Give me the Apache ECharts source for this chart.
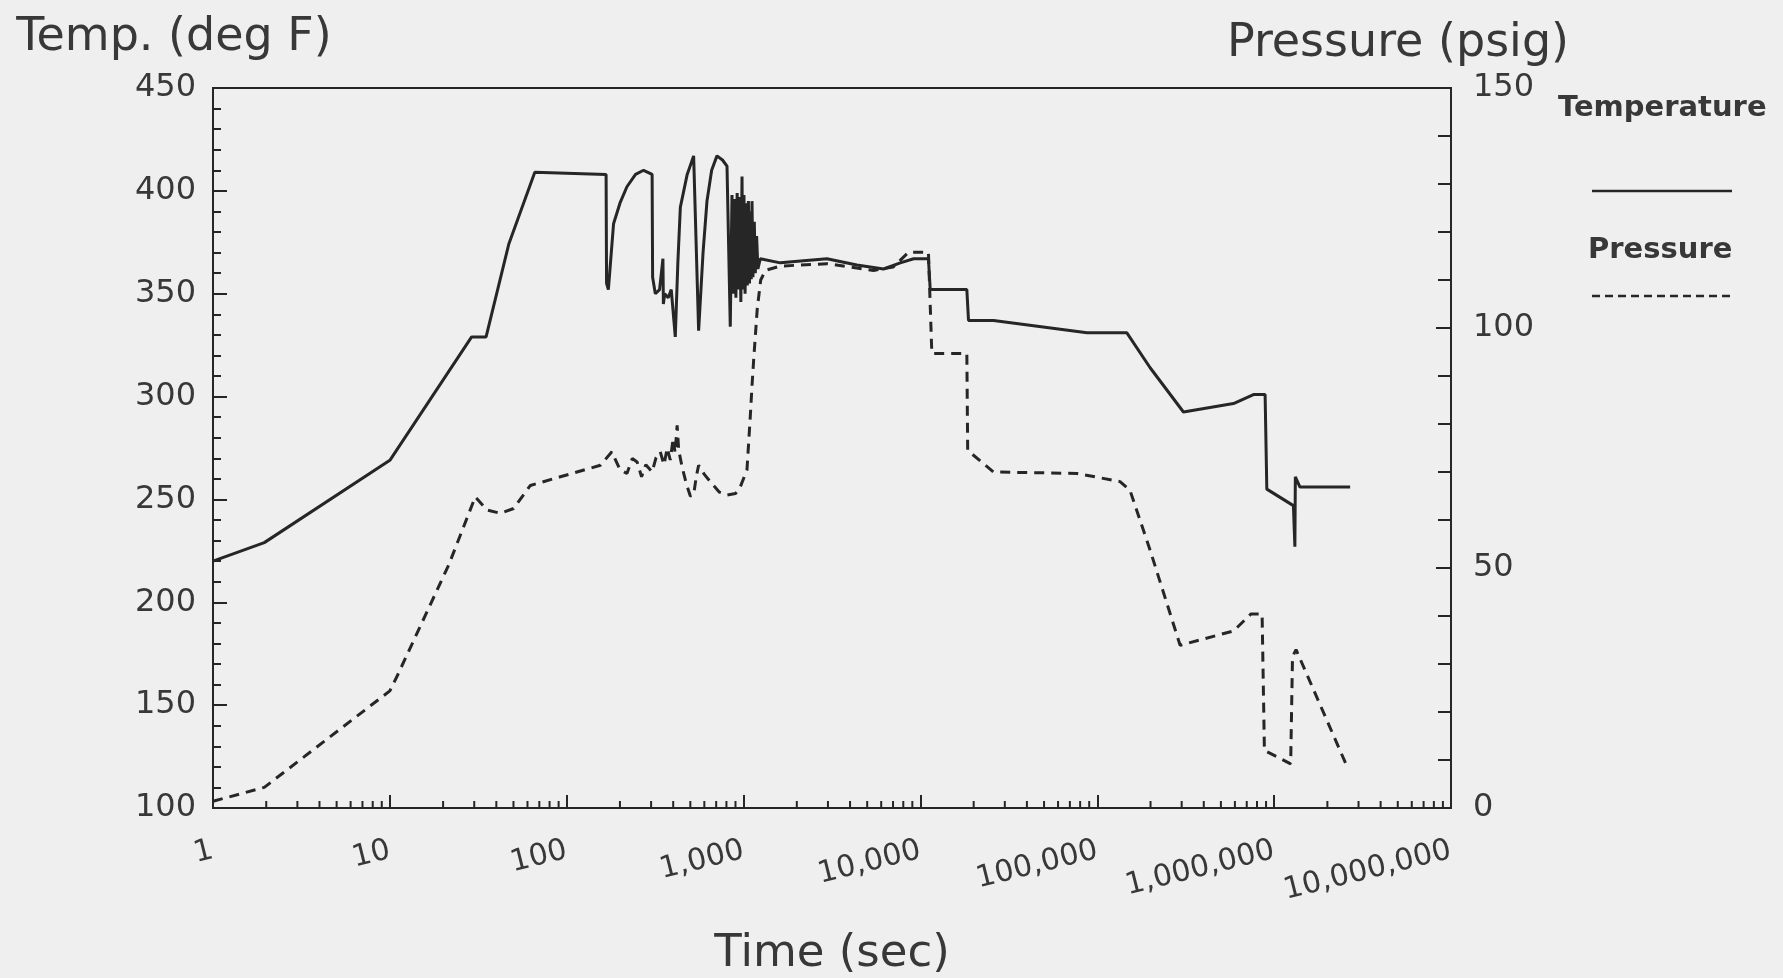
<!DOCTYPE html>
<html>
<head>
<meta charset="utf-8">
<title>Temperature / Pressure vs Time</title>
<script src="https://cdn.jsdelivr.net/npm/echarts@6/dist/echarts.min.js"></script>
<style>
  html, body { margin: 0; padding: 0; background: #efefef; }
  #chart { width: 1783px; height: 978px; }
</style>
</head>
<body>
<div id="chart"></div>
<script>
// time in seconds, temperature in deg F
var tempTime = [1, 1.95, 10, 29, 35, 47, 66, 167, 168, 172, 184, 200, 219, 245, 272, 304, 306, 317, 335, 350, 352, 358, 375, 390, 411, 425, 439, 480, 522, 557, 590, 621, 660, 707, 760, 806, 841,
  860, 875, 890, 905, 920, 935, 950, 965, 980, 990, 1005, 1020, 1035, 1050, 1065, 1080, 1095, 1105, 1116, 1130, 1150, 1165, 1185, 1205, 1243,
  1614, 2960, 4370, 6190, 7690, 9150, 11100, 11360, 18300, 18700, 25900, 87400, 147000, 199000, 307000, 589000, 764000, 889000, 909000, 1285000, 1310000, 1318000, 1400000, 2690000];
var tempValue = [220, 229, 269, 329, 329, 374, 409, 408, 355, 352, 384, 394, 402, 408, 410, 408, 358, 350, 352, 367, 345, 350, 348, 352, 329, 365, 392, 408, 417, 332, 370, 395, 410, 417, 415, 412, 334,
  398, 350, 396, 348, 399, 352, 397, 346, 407, 352, 398, 350, 394, 354, 395, 355, 390, 357, 395, 358, 385, 360, 378, 362, 367,
  365, 367, 364, 362, 365, 367, 367, 352, 352, 337, 337, 331, 331, 314, 292.5, 296.6, 301, 301, 255, 247, 227, 261, 256, 256];

// time in seconds, pressure in psig
var presTime = [1, 1.95, 10, 11, 21.5, 30.4, 35.4, 42.2, 50.1, 62.3, 92, 155, 180, 200, 219, 235, 250, 265, 280, 304, 320, 338, 355, 370, 385, 400, 410, 421, 430, 449, 474, 500, 522, 540, 557, 600, 662, 730, 806, 900, 958, 1045, 1091, 1115, 1140, 1195, 1250, 1330,
  1614, 2960, 5430, 7020, 8570, 11100, 11600, 18300, 18500, 25900, 76800, 134500, 153000, 199000, 294000, 590000, 738000, 855000, 881000, 1240000, 1270000, 1330000, 2600000];
var presValue = [1.4, 4.3, 24.4, 27.5, 50.6, 64.8, 62.1, 61.4, 62.4, 67.2, 69, 71.4, 74.2, 70.5, 69.7, 72.8, 72.1, 69, 71.5, 70, 73, 74.2, 71.5, 75, 72.5, 77, 74, 79.7, 74.5, 71.1, 67.6, 65, 65.2, 69, 71.4, 69.5, 67.6, 65.8, 65.2, 65.5, 66.9, 70.4, 81.5, 87.7, 93.3, 104, 110, 112,
  112.9, 113.4, 112, 112.7, 115.8, 115.8, 94.7, 94.7, 74.5, 70, 69.7, 68, 66.2, 53.7, 33.9, 36.9, 40.4, 40.4, 12, 9.2, 31.5, 33, 8.4];

var timeLabels = ['1', '10', '100', '1,000', '10,000', '100,000', '1,000,000', '10,000,000'];
var minorMultipliers = [2, 3, 4, 5, 6, 7, 8, 9];

var ink = '#262626';
var textInk = '#383838';
var fontFamily = '"DejaVu Sans", sans-serif';

var minorTimes = [];
for (var d = 0; d < 7; d++) {
  minorMultipliers.forEach(function (m) { minorTimes.push(m * Math.pow(10, d)); });
}

var chart = echarts.init(document.getElementById('chart'), null, { renderer: 'canvas' });

var option = {
  backgroundColor: '#efefef',
  animation: false,
  grid: {
    left: 213, right: 332, top: 88, bottom: 170,
    show: true, borderColor: ink, borderWidth: 2,
    outerBoundsMode: 'none'
  },
  xAxis: {
    type: 'log',
    logBase: 10,
    min: 1,
    max: 10000000,
    name: 'Time (sec)',
    nameLocation: 'middle',
    nameGap: 124,
    nameMoveOverlap: false,
    nameTextStyle: { fontFamily: fontFamily, fontSize: 45, color: textInk },
    axisLine: { show: true, lineStyle: { color: ink, width: 2 } },
    axisTick: { show: true, inside: true, length: 13, lineStyle: { color: ink, width: 2 } },
    minorTick: { show: false },
    splitLine: { show: false },
    axisLabel: {
      rotate: 14,
      margin: 42,
      fontFamily: fontFamily,
      fontSize: 30,
      color: textInk,
      hideOverlap: false,
      showMinLabel: true,
      showMaxLabel: true,
      formatter: function (v) {
        var k = Math.round(Math.log10(v));
        return timeLabels[k] || '';
      }
    }
  },
  yAxis: [{
    type: 'value',
    min: 100,
    max: 450,
    interval: 50,
    position: 'left',
    name: 'Temp. (deg F)',
    nameLocation: 'end',
    nameGap: 50,
    nameMoveOverlap: false,
    nameTextStyle: {
      fontFamily: fontFamily, fontSize: 46, color: textInk,
      align: 'center', verticalAlign: 'middle', padding: [0, 78, 0, 0]
    },
    axisLine: { show: true, lineStyle: { color: ink, width: 2 } },
    axisTick: { show: true, inside: true, length: 14, lineStyle: { color: ink, width: 2 } },
    minorTick: { show: true, splitNumber: 5, length: 8, lineStyle: { color: ink, width: 2 } },
    splitLine: { show: false },
    axisLabel: { margin: 17, fontFamily: fontFamily, fontSize: 32, color: textInk }
  }, {
    type: 'value',
    min: 0,
    max: 150,
    interval: 50,
    position: 'right',
    name: 'Pressure (psig)',
    nameLocation: 'end',
    nameGap: 44,
    nameMoveOverlap: false,
    nameTextStyle: {
      fontFamily: fontFamily, fontSize: 46, color: textInk,
      align: 'center', verticalAlign: 'middle', padding: [0, 106, 0, 0]
    },
    axisLine: { show: true, lineStyle: { color: ink, width: 2 } },
    axisTick: { show: true, inside: true, length: 15, lineStyle: { color: ink, width: 2 } },
    minorTick: { show: true, splitNumber: 5, length: 13, lineStyle: { color: ink, width: 2 } },
    splitLine: { show: false },
    axisLabel: { margin: 22, fontFamily: fontFamily, fontSize: 32, color: textInk }
  }],
  graphic: [
    { type: 'text', x: 1558, y: 108, style: { text: 'Temperature', font: 'bold 29px "DejaVu Sans"', fill: textInk, textVerticalAlign: 'middle' } },
    { type: 'line', shape: { x1: 1592, y1: 191, x2: 1732, y2: 191 }, style: { stroke: ink, lineWidth: 2.5 } },
    { type: 'text', x: 1588, y: 250, style: { text: 'Pressure', font: 'bold 29px "DejaVu Sans"', fill: textInk, textVerticalAlign: 'middle' } },
    { type: 'line', shape: { x1: 1592, y1: 296, x2: 1731, y2: 296 }, style: { stroke: ink, lineWidth: 2.5, lineDash: [8, 5] } }
  ],
  series: [{
    name: 'Temperature',
    type: 'line',
    yAxisIndex: 0,
    showSymbol: false,
    symbol: 'none',
    lineStyle: { color: ink, width: 3, type: 'solid' },
    data: tempTime.map(function (t, i) { return [t, tempValue[i]]; }),
    z: 3
  }, {
    name: 'Pressure',
    type: 'line',
    yAxisIndex: 1,
    showSymbol: false,
    symbol: 'none',
    lineStyle: { color: ink, width: 3, type: [10, 7] },
    data: presTime.map(function (t, i) { return [t, presValue[i]]; }),
    z: 2
  }, {
    // minor log ticks on the time axis (2..9 in each decade)
    name: 'minorTicks',
    type: 'custom',
    silent: true,
    clip: false,
    yAxisIndex: 0,
    data: minorTimes.map(function (t) { return [t, 100]; }),
    renderItem: function (params, api) {
      var p = api.coord([api.value(0), 100]);
      return {
        type: 'line',
        shape: { x1: p[0], y1: p[1], x2: p[0], y2: p[1] - 7 },
        style: { stroke: ink, lineWidth: 2 }
      };
    },
    z: 4
  }]
};

chart.setOption(option);
</script>
</body>
</html>
